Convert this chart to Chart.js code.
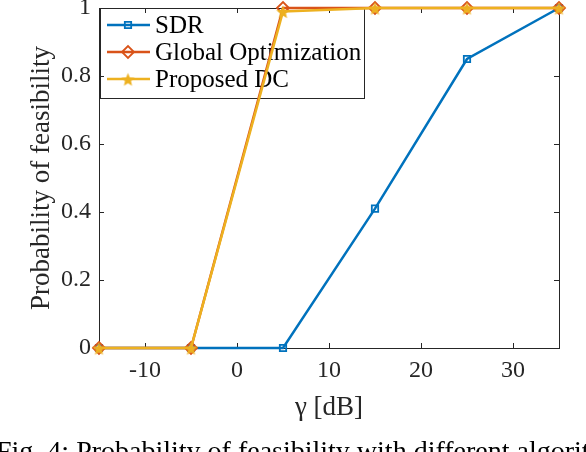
<!DOCTYPE html>
<html>
<head>
<meta charset="utf-8">
<script src="https://cdn.jsdelivr.net/npm/chart.js@4/dist/chart.umd.min.js"></script>
<style>
    html, body { margin: 0; padding: 0; background: #fff; }
    #wrap { width: 586px; height: 452px; position: relative; overflow: hidden; }
</style>
</head>
<body>
<div id="wrap"><canvas id="feasChart"></canvas></div>
<script>
// -------- DATA --------
const gammaDb = [-15, -5, 5, 15, 25, 35];
const sdrProb = [0, 0, 0, 0.41, 0.85, 1];
const globalProb = [0, 0, 1, 1, 1, 1];
const dcProb = [0, 0, 0.99, 1, 1, 1];
const xTickValues = [-10, 0, 10, 20, 30];
const yTickValues = [0, 0.2, 0.4, 0.6, 0.8, 1];
const yTickLabels = ["0", "0.2", "0.4", "0.6", "0.8", "1"];
const seriesNames = ["SDR", "Global Optimization", "Proposed DC"];
const captionText = "Fig. 4: Probability of feasibility with different algorithms.";

const SERIF = "'Liberation Serif', 'Times New Roman', serif";
const AXIS_COLOR = "#262626";

// pentagram marker, MATLAB 'p' style
function makeStar(color, size) {
    const c = document.createElement("canvas");
    c.width = size;
    c.height = size;
    const g = c.getContext("2d");
    const r = size / 2 - 0.5, ri = r * 0.45;
    g.beginPath();
    for (let i = 0; i < 10; i++) {
        const rad = i % 2 ? ri : r;
        const a = -Math.PI / 2 + i * Math.PI / 5;
        const px = size / 2 + rad * Math.cos(a);
        const py = size / 2 + 1 + rad * Math.sin(a);
        i ? g.lineTo(px, py) : g.moveTo(px, py);
    }
    g.closePath();
    g.fillStyle = color;
    g.fill();
    return c;
}

const starImg = makeStar("#EDB120", 15);

const toXY = (ys) => gammaDb.map((x, i) => ({ x, y: ys[i] }));

// -------- PLUGIN: box, inward ticks, legend, caption --------
const matlabAxes = {
    id: "matlabAxes",
    beforeDatasetsDraw(chart) {
        const { ctx, chartArea: a, scales } = chart;
        ctx.save();
        ctx.strokeStyle = AXIS_COLOR;
        ctx.lineWidth = 1;
        ctx.strokeRect(a.left + 0.5, a.top + 0.5, a.right - a.left, a.bottom - a.top);

        const tl = 5;
        ctx.beginPath();
        xTickValues.forEach(v => {
            const px = Math.round(scales.x.getPixelForValue(v)) + 0.5;
            ctx.moveTo(px, a.bottom); ctx.lineTo(px, a.bottom - tl);
            ctx.moveTo(px, a.top); ctx.lineTo(px, a.top + tl);
        });
        yTickValues.forEach(v => {
            const py = Math.round(scales.y.getPixelForValue(v)) + 0.5;
            ctx.moveTo(a.left, py); ctx.lineTo(a.left + tl, py);
            ctx.moveTo(a.right, py); ctx.lineTo(a.right - tl, py);
        });
        ctx.stroke();

        // legend box (top-left inside axes)
        const lx = a.left + 1, ly = a.top, lw = 264, lh = 90;
        ctx.strokeStyle = AXIS_COLOR;
        ctx.strokeRect(lx + 0.5, ly + 0.5, lw, lh);
        ctx.font = "25px " + SERIF;
        ctx.textBaseline = "middle";
        chart.data.datasets.forEach((ds, i) => {
            const rowY = ly + 17 + i * 27;
            ctx.strokeStyle = ds.borderColor;
            ctx.lineWidth = ds.borderWidth;
            ctx.beginPath();
            ctx.moveTo(lx + 7, rowY);
            ctx.lineTo(lx + 50, rowY);
            ctx.stroke();
            ctx.lineWidth = ds.pointBorderWidth;
            ctx.strokeStyle = ds.pointBorderColor || ds.borderColor;
            ctx.fillStyle = "rgba(0,0,0,0)";
            Chart.helpers.drawPoint(ctx, {
                pointStyle: ds.pointStyle,
                radius: ds.pointRadius,
                borderWidth: ds.pointBorderWidth,
                rotation: 0
            }, lx + 28, rowY);
            ctx.fillStyle = "#000";
            ctx.fillText(seriesNames[i], lx + 55, rowY + 1);
        });
        ctx.restore();
    },
    afterDraw(chart) {
        const { ctx } = chart;
        ctx.save();
        ctx.font = "28px " + SERIF;
        ctx.fillStyle = "#000";
        ctx.textBaseline = "alphabetic";
        ctx.fillText(captionText, -4, 460);
        ctx.restore();
    }
};

// -------- CHART --------
const ctx = document.getElementById("feasChart").getContext("2d");

new Chart(ctx, {
    type: "line",
    data: {
        datasets: [{
            label: seriesNames[0],
            data: toXY(sdrProb),
            borderColor: "#0072BD",
            borderWidth: 2.5,
            pointStyle: "rect",
            pointRadius: 4.5,
            pointBorderWidth: 1.8,
            pointBorderColor: "#0072BD",
            pointBackgroundColor: "rgba(0,0,0,0)",
            order: 2
        }, {
            label: seriesNames[1],
            data: toXY(globalProb),
            borderColor: "#D95319",
            borderWidth: 2.5,
            pointStyle: "rectRot",
            pointRadius: 6,
            pointBorderWidth: 1.8,
            pointBorderColor: "#D95319",
            pointBackgroundColor: "rgba(0,0,0,0)",
            order: 1
        }, {
            label: seriesNames[2],
            data: toXY(dcProb),
            borderColor: "#EDB120",
            borderWidth: 2.5,
            pointStyle: starImg,
            pointRadius: 7,
            pointBorderWidth: 1,
            order: 0
        }]
    },
    options: {
        responsive: true,
        maintainAspectRatio: false,
        animation: false,
        devicePixelRatio: 1,
        layout: { autoPadding: false, padding: { top: 8, right: 27, left: 0, bottom: 0 } },
        elements: { line: { tension: 0, fill: false } },
        clip: false,
        plugins: {
            legend: { display: false },
            tooltip: { enabled: false }
        },
        scales: {
            x: {
                type: "linear",
                min: -15,
                max: 35,
                afterBuildTicks: s => { s.ticks = xTickValues.map(v => ({ value: v })); },
                afterFit: s => { s.height = 104; s.paddingLeft = 0; s.paddingRight = 0; },
                grid: { display: false, drawTicks: false },
                border: { display: false },
                ticks: {
                    padding: 8,
                    color: AXIS_COLOR,
                    font: { family: SERIF, size: 24 },
                    maxRotation: 0
                },
                title: {
                    display: true,
                    text: "γ [dB]",
                    color: AXIS_COLOR,
                    font: { family: SERIF, size: 27 },
                    padding: { top: 0, bottom: 28 }
                }
            },
            y: {
                min: 0,
                max: 1,
                afterBuildTicks: s => { s.ticks = yTickValues.map(v => ({ value: v })); },
                afterFit: s => { s.width = 99; s.paddingTop = 0; s.paddingBottom = 0; },
                grid: { display: false, drawTicks: false },
                border: { display: false },
                ticks: {
                    padding: 8,
                    color: AXIS_COLOR,
                    font: { family: SERIF, size: 24 },
                    callback: (v, i) => yTickLabels[i]
                },
                title: {
                    display: true,
                    text: "Probability of feasibility",
                    color: AXIS_COLOR,
                    font: { family: SERIF, size: 27 },
                    padding: { top: 26, bottom: 0 }
                }
            }
        }
    },
    plugins: [matlabAxes]
});
</script>
</body>
</html>
